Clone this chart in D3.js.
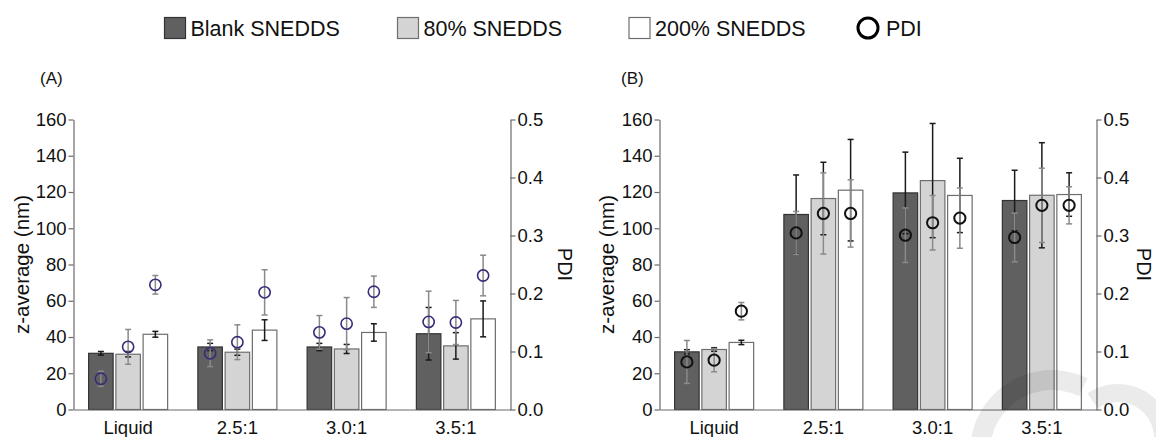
<!DOCTYPE html>
<html>
<head>
<meta charset="utf-8">
<script src="https://cdn.jsdelivr.net/npm/d3@7"></script>
<style>
  body { margin: 0; background: #fff; }
  svg { font-family: "Liberation Sans", Arial, Helvetica, sans-serif; }
</style>
</head>
<body>
<div id="chart"></div>
<script>
// categories and series
var categories = ["Liquid", "2.5:1", "3.0:1", "3.5:1"];
var series = ["Blank SNEDDS", "80% SNEDDS", "200% SNEDDS"];
var zTicks = [0, 20, 40, 60, 80, 100, 120, 140, 160];
var pdiTicks = [0, 0.1, 0.2, 0.3, 0.4, 0.5];

// panel A - z-average (nm) and sd
var zA_blank = [31, 34.5, 34.5, 41.8];
var zA_blankErr = [1, 2, 2, 14.5];
var zA_80 = [30.5, 31.6, 33.4, 35.1];
var zA_80Err = [1.5, 1.7, 2.5, 7.3];
var zA_200 = [41.5, 43.8, 42.5, 50];
var zA_200Err = [1.6, 5.7, 4.8, 9.9];
// panel A - PDI and sd
var pdiA_blank = [0.053, 0.097, 0.133, 0.151];
var pdiA_blankErr = [0.013, 0.023, 0.029, 0.053];
var pdiA_80 = [0.108, 0.116, 0.148, 0.150];
var pdiA_80Err = [0.03, 0.03, 0.045, 0.038];
var pdiA_200 = [0.215, 0.202, 0.203, 0.231];
var pdiA_200Err = [0.016, 0.039, 0.027, 0.035];

// panel B - z-average (nm) and sd
var zB_blank = [31.8, 107.6, 119.5, 115.3];
var zB_blankErr = [1.2, 21.8, 22.5, 16.7];
var zB_80 = [33.1, 116.4, 126.3, 118.2];
var zB_80Err = [1, 20, 31.5, 29];
var zB_200 = [37, 121, 118.1, 118.6];
var zB_200Err = [1.2, 28, 20.5, 12];
// panel B - PDI and sd
var pdiB_blank = [0.082, 0.3045, 0.3005, 0.2966];
var pdiB_blankErr = [0.037, 0.037, 0.047, 0.042];
var pdiB_80 = [0.085, 0.338, 0.322, 0.352];
var pdiB_80Err = [0.02, 0.07, 0.047, 0.064];
var pdiB_200 = [0.1695, 0.338, 0.330, 0.352];
var pdiB_200Err = [0.015, 0.058, 0.052, 0.032];

var fills = ["#606060", "#d4d4d4", "#ffffff"];
var strokes = ["#333333", "#6e6e6e", "#6e6e6e"];

var W = 1156, H = 437;
var svg = d3.select("#chart").append("svg")
  .attr("width", W).attr("height", H);

// legend
var legX = [164.5, 397.5, 629];
series.forEach(function(s, i){
  svg.append("rect")
    .attr("x", legX[i]).attr("y", 17.5)
    .attr("width", 21).attr("height", 21)
    .attr("fill", fills[i]).attr("stroke", strokes[i]).attr("stroke-width", 1.2);
  svg.append("text")
    .attr("x", legX[i] + 26).attr("y", 36)
    .attr("font-size", 21.5).attr("fill", "#111")
    .text(s);
});
svg.append("circle")
  .attr("cx", 868).attr("cy", 28).attr("r", 10)
  .attr("fill", "none").attr("stroke", "#000").attr("stroke-width", 3);
svg.append("text")
  .attr("x", 886).attr("y", 36)
  .attr("font-size", 21.5).attr("fill", "#111")
  .text("PDI");

function drawPanel(opts){
  var left = opts.left, right = opts.left + 437;
  var yTop = 119.5, yBot = 409.5;
  var g = svg.append("g");

  var x0 = d3.scaleBand().domain(categories).range([left, right]);
  var x1 = d3.scaleBand().domain(series).range([-39.5, 39.5]).paddingInner(0.1);
  var y = d3.scaleLinear().domain([0, 160]).range([yBot, yTop]);
  var yP = d3.scaleLinear().domain([0, 0.5]).range([yBot, yTop]);

  var rows = [];
  series.forEach(function(s, si){
    categories.forEach(function(c, ci){
      rows.push({s: s, si: si, c: c,
        z: opts.z[si][ci], zErr: opts.zErr[si][ci],
        p: opts.p[si][ci], pErr: opts.pErr[si][ci]});
    });
  });
  var cx = function(d){ return x0(d.c) + x0.bandwidth()/2 + x1(d.s) + x1.bandwidth()/2; };

  // bars
  g.selectAll("rect.bar").data(rows).enter().append("rect")
    .attr("class", "bar")
    .attr("x", function(d){ return x0(d.c) + x0.bandwidth()/2 + x1(d.s); })
    .attr("width", x1.bandwidth())
    .attr("y", function(d){ return y(d.z); })
    .attr("height", function(d){ return yBot - y(d.z); })
    .attr("fill", function(d){ return fills[d.si]; })
    .attr("stroke", function(d){ return strokes[d.si]; })
    .attr("stroke-width", 1.2);

  // error bars helper
  function errBars(cls, val, err, scale, color, cap, width){
    var eg = g.selectAll("g." + cls).data(rows).enter().append("g")
      .attr("class", cls)
      .attr("stroke", color).attr("stroke-width", width);
    eg.append("line")
      .attr("x1", cx).attr("x2", cx)
      .attr("y1", function(d){ return scale(d[val] + d[err]); })
      .attr("y2", function(d){ return scale(d[val] - d[err]); });
    [1, -1].forEach(function(sign){
      eg.append("line")
        .attr("x1", function(d){ return cx(d) - cap; })
        .attr("x2", function(d){ return cx(d) + cap; })
        .attr("y1", function(d){ return scale(d[val] + sign*d[err]); })
        .attr("y2", function(d){ return scale(d[val] + sign*d[err]); });
    });
  }
  errBars("zerr", "z", "zErr", y, "#1a1a1a", 3, 1.5);
  errBars("perr", "p", "pErr", yP, "#8a8a8a", 3, 1.5);

  // PDI circles
  g.selectAll("circle.pdi").data(rows).enter().append("circle")
    .attr("class", "pdi")
    .attr("cx", cx)
    .attr("cy", function(d){ return yP(d.p); })
    .attr("r", 5.6)
    .attr("fill", "none")
    .attr("stroke", opts.circleColor)
    .attr("stroke-width", opts.circleWidth);

  // axes
  var axL = g.append("g").attr("transform", "translate(" + left + ",0)")
    .call(d3.axisLeft(y).tickValues(zTicks).tickSize(5).tickSizeOuter(0).tickPadding(2));
  var axR = g.append("g").attr("transform", "translate(" + right + ",0)")
    .call(d3.axisRight(yP).tickValues(pdiTicks).tickSize(5).tickSizeOuter(0).tickPadding(2)
      .tickFormat(d3.format(".1f")));
  var axB = g.append("g").attr("transform", "translate(0," + yBot + ")")
    .call(d3.axisBottom(x0).tickSize(0).tickSizeOuter(0).tickPadding(11.5));
  [axL, axR, axB].forEach(function(a){
    a.selectAll("path, line").attr("stroke", "#6a6a6a").attr("stroke-width", 1.2);
    a.selectAll("text").attr("font-size", 18.5).attr("fill", "#111")
      .attr("font-family", "'Liberation Sans', Arial, sans-serif");
  });

  // axis titles
  g.append("text")
    .attr("transform", "translate(" + opts.zTitleX + "," + (yTop + yBot)/2 + ") rotate(-90)")
    .attr("text-anchor", "middle").attr("dy", "0.35em")
    .attr("font-size", 20.5).attr("fill", "#111")
    .text("z-average (nm)");
  g.append("text")
    .attr("transform", "translate(" + opts.pTitleX + "," + (yTop + yBot)/2 + ") rotate(90)")
    .attr("text-anchor", "middle").attr("dy", "0.35em")
    .attr("font-size", 20).attr("fill", "#111")
    .text("PDI");

  // panel letter
  g.append("text")
    .attr("x", opts.labelX).attr("y", 84)
    .attr("font-size", 17).attr("fill", "#111")
    .text(opts.label);
}

drawPanel({
  left: 73.5, label: "(A)", labelX: 40, zTitleX: 22, pTitleX: 565,
  z: [zA_blank, zA_80, zA_200], zErr: [zA_blankErr, zA_80Err, zA_200Err],
  p: [pdiA_blank, pdiA_80, pdiA_200], pErr: [pdiA_blankErr, pdiA_80Err, pdiA_200Err],
  circleColor: "#3b2a78", circleWidth: 1.6
});
drawPanel({
  left: 659.5, label: "(B)", labelX: 621, zTitleX: 607, pTitleX: 1144,
  z: [zB_blank, zB_80, zB_200], zErr: [zB_blankErr, zB_80Err, zB_200Err],
  p: [pdiB_blank, pdiB_80, pdiB_200], pErr: [pdiB_blankErr, pdiB_80Err, pdiB_200Err],
  circleColor: "#111", circleWidth: 2
});

// faint publisher watermark in the lower right corner
var wm = svg.append("g").attr("fill", "#000").attr("fill-opacity", 0.08);
wm.append("path")
  .attr("transform", "translate(1052,452)")
  .attr("d", d3.arc()({innerRadius: 62, outerRadius: 82, startAngle: -1.95, endAngle: 0.45}));
wm.append("path")
  .attr("transform", "translate(1118,438)")
  .attr("d", d3.arc()({innerRadius: 36, outerRadius: 54, startAngle: -0.6, endAngle: 2.6}));
</script>
</body>
</html>
